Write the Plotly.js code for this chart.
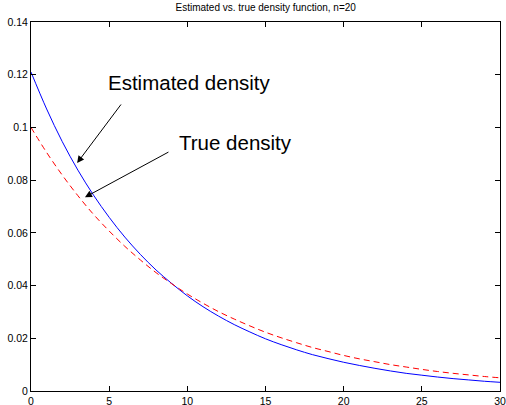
<!DOCTYPE html>
<html>
<head>
<meta charset="utf-8">
<script src="https://cdn.plot.ly/plotly-3.0.1.min.js"></script>
<style>html,body{margin:0;padding:0;background:#fff;}#chart{width:506px;height:405px;}</style>
</head>
<body>
<div id="chart"></div>
<script>
// x positions (read at integer steps)
var xValues = [0,1,2,3,4,5,6,7,8,9,10,11,12,13,14,15,16,17,18,19,20,21,22,23,24,25,26,27,28,29,30];
// Estimated density (blue solid)
var estimatedDensity = [0.1210,0.1070,0.0946,0.0838,0.0743,0.0659,0.0584,0.0518,0.0459,0.0408,0.0361,0.0320,0.0284,0.0252,0.0224,0.0198,0.0176,0.0156,0.0138,0.0123,0.0109,0.0097,0.0086,0.0076,0.0067,0.0060,0.0053,0.0047,0.0042,0.0037,0.0033];
// True density (red dashed)
var trueDensity = [0.1000,0.0905,0.0819,0.0741,0.0670,0.0607,0.0549,0.0497,0.0449,0.0407,0.0368,0.0333,0.0301,0.0273,0.0247,0.0223,0.0202,0.0183,0.0165,0.0150,0.0135,0.0122,0.0111,0.0100,0.0091,0.0082,0.0074,0.0067,0.0061,0.0055,0.0050];
var xTicks = [0,5,10,15,20,25,30];
var yTicks = [0,0.02,0.04,0.06,0.08,0.1,0.12,0.14];
var yTickLabels = ['0','0.02','0.04','0.06','0.08','0.1','0.12','0.14'];
var titleText = 'Estimated vs. true density function, n=20';
var labelEstimated = 'Estimated density';
var labelTrue = 'True density';

var fontFam = 'Liberation Sans, Arial, Helvetica, sans-serif';

var traces = [
  {x: xValues, y: estimatedDensity, mode: 'lines', line: {color: '#0000ff', width: 1, shape: 'spline'}, name: 'Estimated'},
  {x: xValues, y: trueDensity, mode: 'lines', line: {color: '#ff0000', width: 1, dash: '6px,4px', shape: 'spline'}, name: 'True'}
];

var axisCommon = {
  showgrid: false, zeroline: false, showline: true, linecolor: '#000', linewidth: 1,
  mirror: 'ticks', ticks: 'inside', ticklen: 5, tickcolor: '#000', tickwidth: 1,
  tickfont: {family: fontFam, size: 10.5, color: '#000'}
};

var layout = {
  width: 506, height: 405,
  margin: {l: 31, r: 6, t: 22, b: 14, pad: 0},
  paper_bgcolor: '#fff', plot_bgcolor: '#fff',
  showlegend: false,
  title: {text: titleText, font: {family: fontFam, size: 10, color: '#000'}, x: 0.5251, xanchor: 'center', y: 0.982, yanchor: 'middle'},
  xaxis: Object.assign({}, axisCommon, {range: [0, 30], tickmode: 'array', tickvals: xTicks, ticktext: xTicks.map(String)}),
  yaxis: Object.assign({}, axisCommon, {range: [0, 0.14], tickmode: 'array', tickvals: yTicks, ticktext: yTickLabels}),
  annotations: [
    {x: 2.95, y: 0.0865, xref: 'x', yref: 'y', text: '', showarrow: true, arrowhead: 2, arrowsize: 1.4, arrowwidth: 1, arrowcolor: '#000', ax: 45, ay: -60},
    {x: 3.45, y: 0.0735, xref: 'x', yref: 'y', text: '', showarrow: true, arrowhead: 2, arrowsize: 1.4, arrowwidth: 1, arrowcolor: '#000', ax: 85, ay: -46},
    {x: 10.17, y: 0.1172, xref: 'x', yref: 'y', text: labelEstimated, showarrow: false, xanchor: 'center', yanchor: 'middle', font: {family: fontFam, size: 20.5, color: '#000'}},
    {x: 13.05, y: 0.0941, xref: 'x', yref: 'y', text: labelTrue, showarrow: false, xanchor: 'center', yanchor: 'middle', font: {family: fontFam, size: 20.5, color: '#000'}}
  ]
};

Plotly.newPlot('chart', traces, layout, {staticPlot: true, displayModeBar: false});
</script>
</body>
</html>
